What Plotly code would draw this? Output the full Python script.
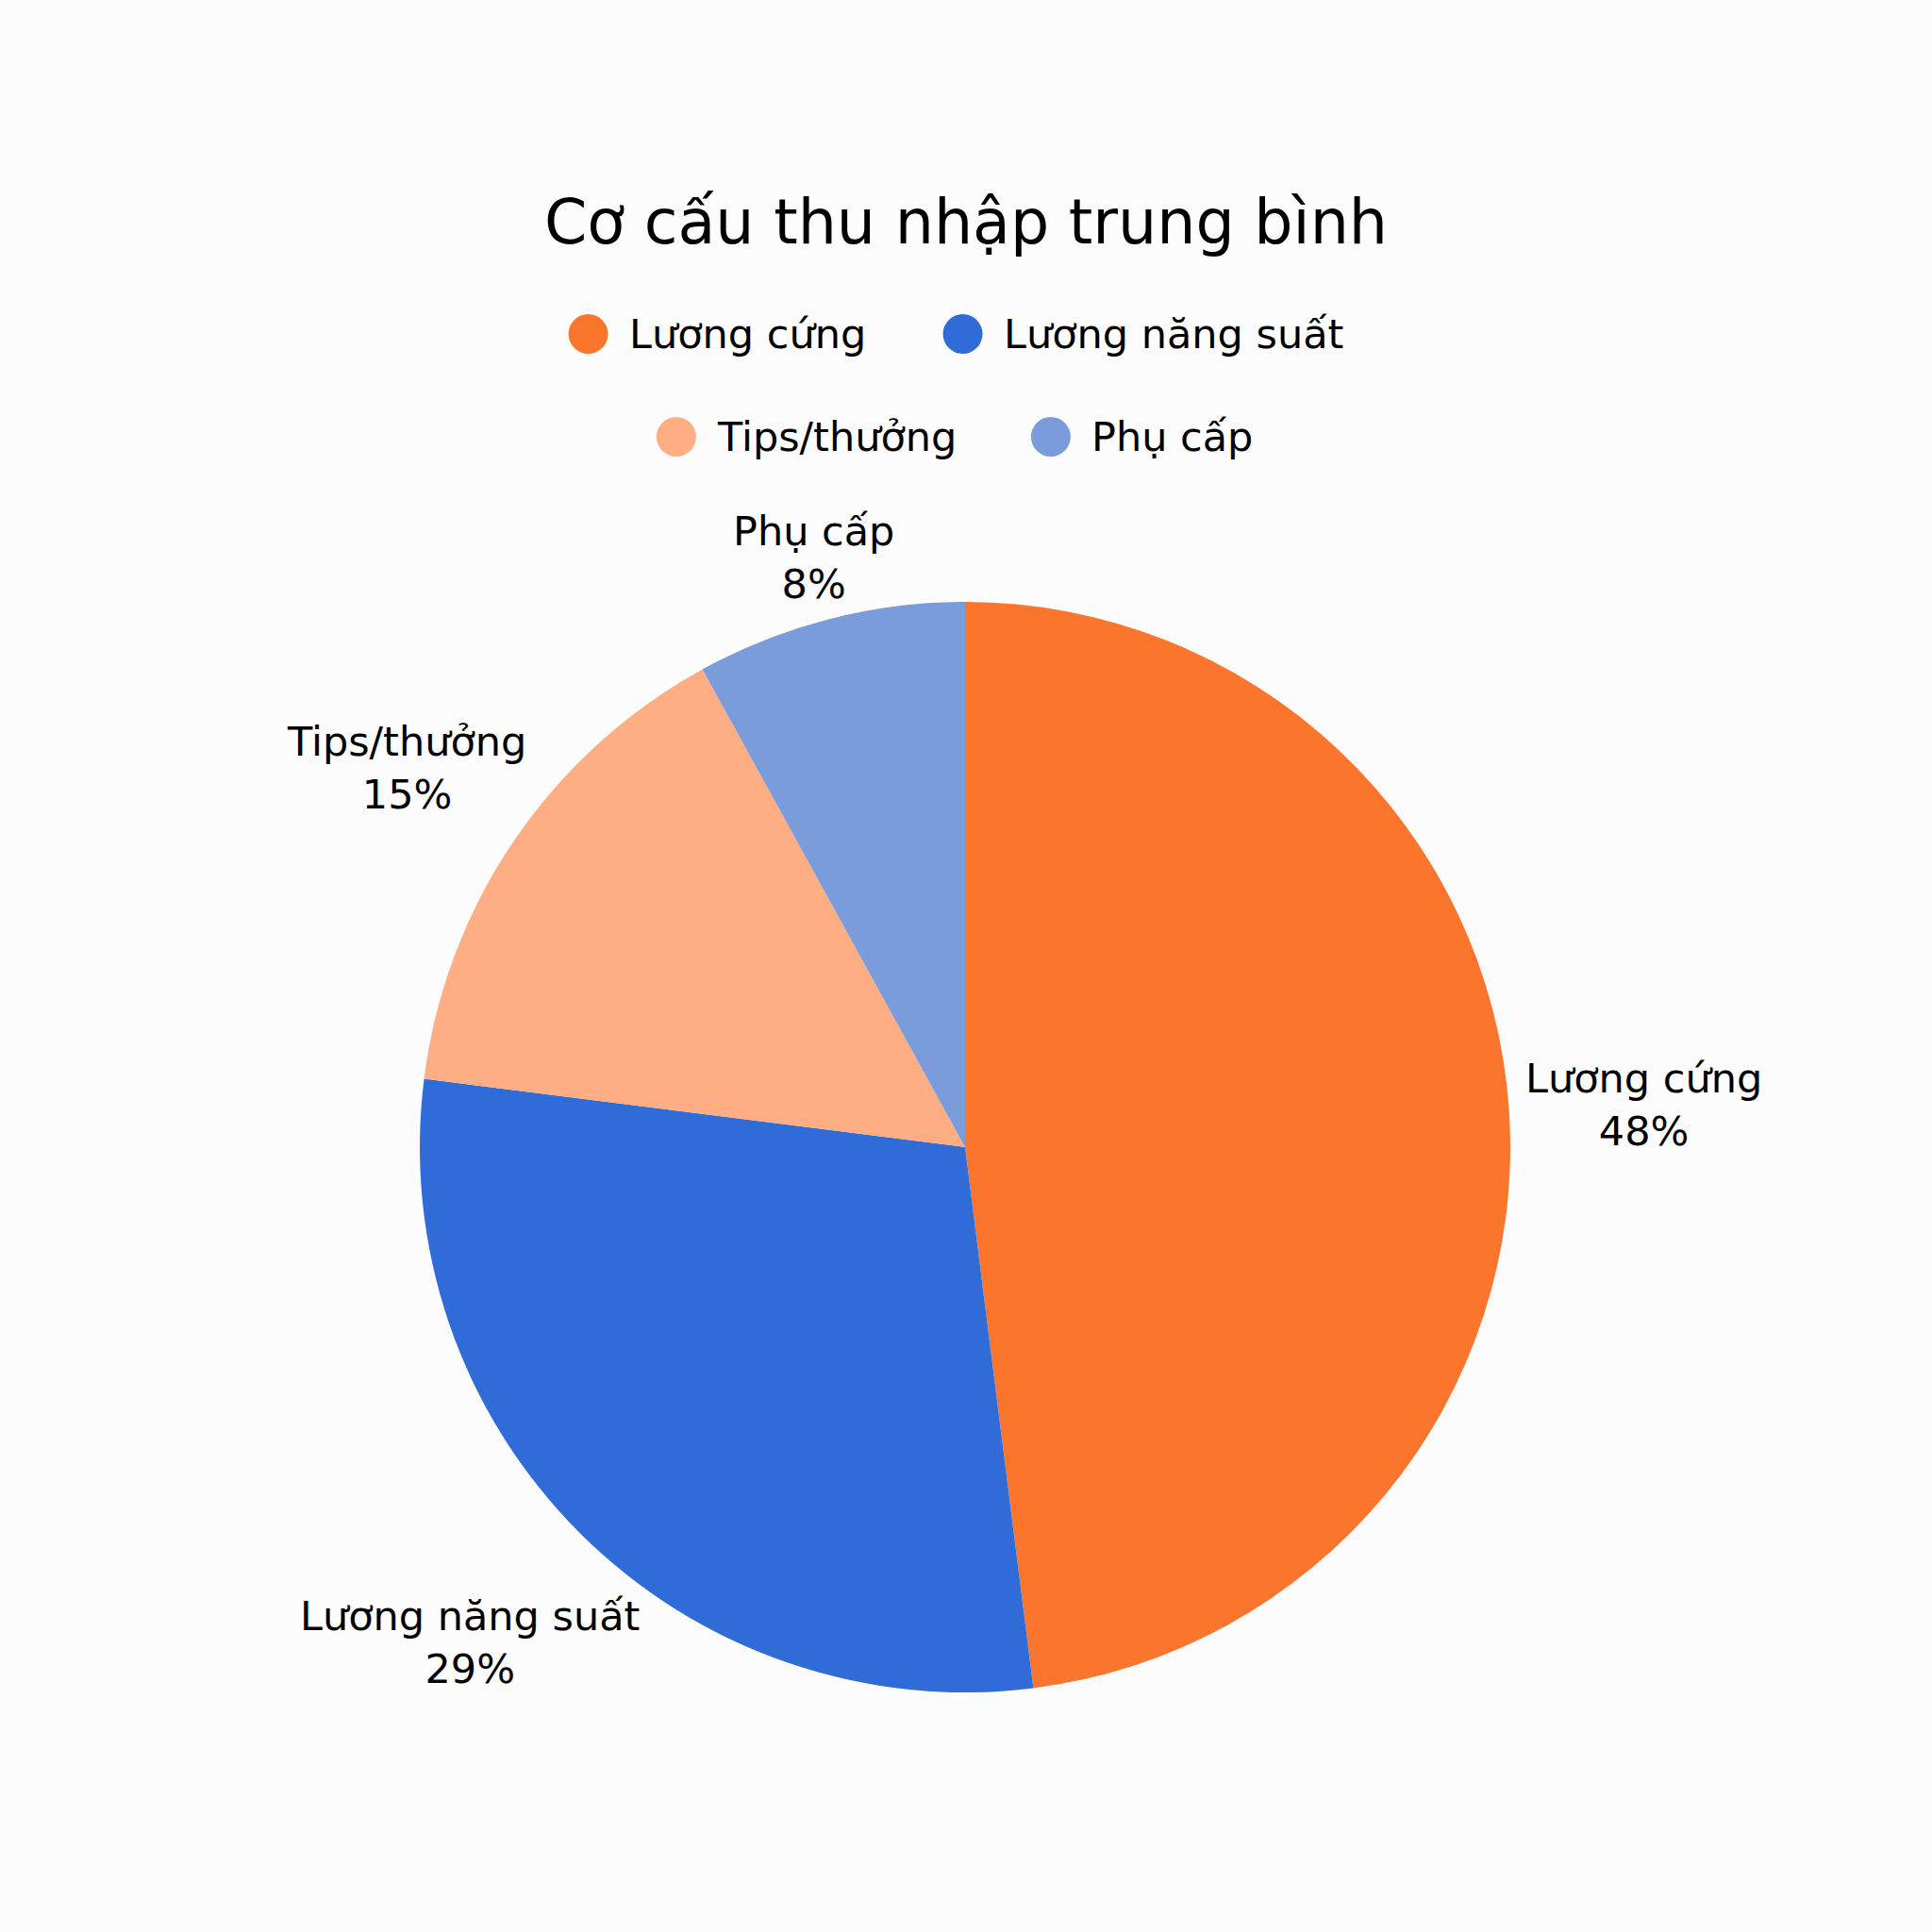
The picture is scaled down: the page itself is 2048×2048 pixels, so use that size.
import math
import plotly.graph_objects as go

# ---------------- data ----------------
title_text = "Cơ cấu thu nhập trung bình"
categories = ["Lương cứng", "Lương năng suất", "Tips/thưởng", "Phụ cấp"]
values = [48, 29, 15, 8]

# ---------------- style ----------------
colors = ["#FC752C", "#2F6CD8", "#FFAE83", "#7B9CDA"]
W = H = 2048
FONT = "DejaVu Sans"
BG = "#FCFCFC"
TXT = "#000000"
label_fs = 43
title_fs = 65
pie_cx, pie_cy, pie_r = 1023, 1216, 578      # pixels from top-left
unit_w = 0.62 * label_fs                      # rough width of a regular glyph
NARROW = set("iljtfr/ .")
label_gap, label_h = 15, 63

leg_rows_y = [354, 463]
leg_cx = 1012
leg_step = 397
marker_r = 21
text_off = 41


def px_x(x):
    return x / W


def px_y(y):
    return 1 - y / H


def text_w(s):
    return sum(0.5 if ch in NARROW else 1.0 for ch in s) * unit_w


fig = go.Figure()
fig.add_trace(go.Pie(
    labels=categories, values=values, sort=False, direction="clockwise", rotation=0,
    marker=dict(colors=colors, line=dict(width=0)),
    textinfo="none", hoverinfo="label+percent", showlegend=False,
    domain=dict(x=[px_x(pie_cx - pie_r), px_x(pie_cx + pie_r)],
                y=[px_y(pie_cy + pie_r), px_y(pie_cy - pie_r)]),
))

annotations = []
shapes = []

# slice labels outside the pie, positioned along each slice's mid-angle
total = sum(values)
cum = 0
for lab, v in zip(categories, values):
    mid = (cum + v / 2) / total * 2 * math.pi
    cum += v
    ux, uy = math.sin(mid), -math.cos(mid)
    w = text_w(lab)
    d = pie_r + label_gap + abs(ux) * w / 2 + abs(uy) * label_h / 2
    x = pie_cx + ux * d
    y = pie_cy + uy * d
    pct = round(v / total * 100)
    annotations.append(dict(
        x=px_x(x), y=px_y(y), xref="paper", yref="paper",
        text=f"{lab}<br>{pct}%", showarrow=False,
        xanchor="center", yanchor="middle", align="center",
        font=dict(size=label_fs, color=TXT, family=FONT),
    ))

# legend: two centred rows of circle markers + labels
for r, my in enumerate(leg_rows_y):
    idx = [r * 2, r * 2 + 1]
    last_w = text_w(categories[idx[-1]])
    width = marker_r + leg_step + text_off + last_w
    mx1 = leg_cx + marker_r - width / 2
    for c, i in enumerate(idx):
        mx = mx1 + c * leg_step
        shapes.append(dict(
            type="circle", xref="paper", yref="paper",
            xsizemode="pixel", ysizemode="pixel",
            xanchor=px_x(mx), yanchor=px_y(my),
            x0=-marker_r, x1=marker_r, y0=-marker_r, y1=marker_r,
            fillcolor=colors[i], line=dict(width=0),
        ))
        annotations.append(dict(
            x=px_x(mx + text_off), y=px_y(my), xref="paper", yref="paper",
            text=categories[i], showarrow=False, xanchor="left", yanchor="middle",
            font=dict(size=label_fs, color=TXT, family=FONT),
        ))

fig.update_layout(
    width=W, height=H, autosize=False,
    margin=dict(l=0, r=0, t=0, b=0),
    paper_bgcolor=BG, plot_bgcolor=BG,
    title=dict(text=title_text, x=0.5, xanchor="center", y=px_y(235), yanchor="middle",
               font=dict(size=title_fs, color=TXT, family=FONT)),
    annotations=annotations, shapes=shapes,
    showlegend=False,
)

fig.write_html("out.html")
